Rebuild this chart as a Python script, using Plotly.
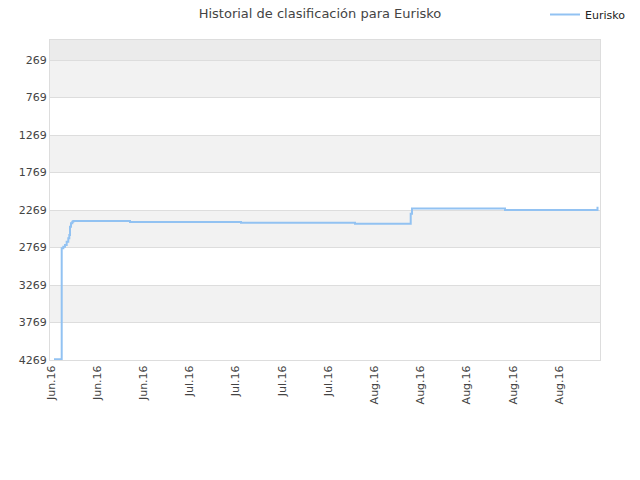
import plotly.graph_objects as go

# snapshot times and ranking positions for Eurisko
dates = [
    '2016-06-01 16:00', '2016-06-02 22:48', '2016-06-03 05:17', '2016-06-03 12:00',
    '2016-06-03 18:43', '2016-06-04 01:12', '2016-06-04 05:17', '2016-06-04 08:00',
    '2016-06-04 12:00', '2016-06-04 17:17', '2016-06-04 21:07', '2016-06-14 08:00',
    '2016-07-02 20:00', '2016-07-21 20:00', '2016-07-31 02:53', '2016-07-31 08:00',
    '2016-08-15 20:00', '2016-08-31 06:00',
]
ranks = [
    4260, 2780, 2758, 2736,
    2692, 2646, 2602, 2491,
    2446, 2425, 2416, 2429,
    2438, 2451, 2320, 2250,
    2269, 2225,
]

tick_dates = [
    '2016-06-01 04:00', '2016-06-08 21:00', '2016-06-16 13:40', '2016-06-24 06:30',
    '2016-07-01 23:20', '2016-07-09 16:00', '2016-07-17 09:00', '2016-07-25 01:40',
    '2016-08-01 18:30', '2016-08-09 11:20', '2016-08-17 04:00', '2016-08-24 21:00',
]
tick_labels = ['Jun.16', 'Jun.16', 'Jun.16', 'Jul.16', 'Jul.16', 'Jul.16', 'Jul.16',
               'Aug.16', 'Aug.16', 'Aug.16', 'Aug.16', 'Aug.16']

y_ticks = [269, 769, 1269, 1769, 2269, 2769, 3269, 3769, 4269]
y_top = 2

font_family = 'DejaVu Sans'

fig = go.Figure()
fig.add_trace(go.Scatter(
    x=dates,
    y=ranks,
    mode='lines',
    name='Eurisko',
    line=dict(color='#92c2f2', width=2, shape='hv'),
))

# alternating bands between the y ticks
shapes = [dict(type='rect', xref='paper', yref='y', x0=0, x1=1,
               y0=y_top, y1=y_ticks[0], fillcolor='#ebebeb',
               line=dict(width=0), layer='below')]
for i in range(0, len(y_ticks) - 1, 2):
    shapes.append(dict(type='rect', xref='paper', yref='y', x0=0, x1=1,
                       y0=y_ticks[i], y1=y_ticks[i + 1], fillcolor='#f2f2f2',
                       line=dict(width=0), layer='below'))

fig.update_layout(
    width=640,
    height=480,
    margin=dict(l=50, r=40, t=40, b=120, autoexpand=False),
    plot_bgcolor='white',
    paper_bgcolor='white',
    font=dict(family=font_family, size=11, color='#444444'),
    title=dict(
        text='Historial de clasificación para Eurisko',
        x=0.5, xanchor='center',
        y=0.973, yanchor='middle',
        font=dict(family=font_family, size=13, color='#444444'),
    ),
    xaxis=dict(
        range=['2016-06-01 00:00', '2016-08-31 16:00'],
        tickvals=tick_dates,
        ticktext=tick_labels,
        tickangle=-90,
        showgrid=False,
        zeroline=False,
        showline=True,
        linecolor='#dddddd',
        linewidth=1,
        mirror=True,
        tickfont=dict(size=11, color='#444444'),
    ),
    yaxis=dict(
        range=[y_ticks[-1], y_top],
        tickvals=y_ticks,
        ticktext=[str(v) for v in y_ticks],
        showgrid=True,
        gridcolor='#dddddd',
        gridwidth=1,
        zeroline=False,
        showline=True,
        linecolor='#dddddd',
        linewidth=1,
        mirror=True,
        tickfont=dict(size=11, color='#444444'),
    ),
    shapes=shapes,
    showlegend=True,
    legend=dict(
        x=0.9, xanchor='left',
        y=1.125, yanchor='top',
        itemwidth=30,
        font=dict(family=font_family, size=11, color='#222222'),
        bgcolor='rgba(0,0,0,0)',
    ),
)

# page body has a default margin, drop it so the figure sits at the corner
fig.write_html("out.html", config={'displayModeBar': False},
               post_script="document.body.style.margin = '0';")
